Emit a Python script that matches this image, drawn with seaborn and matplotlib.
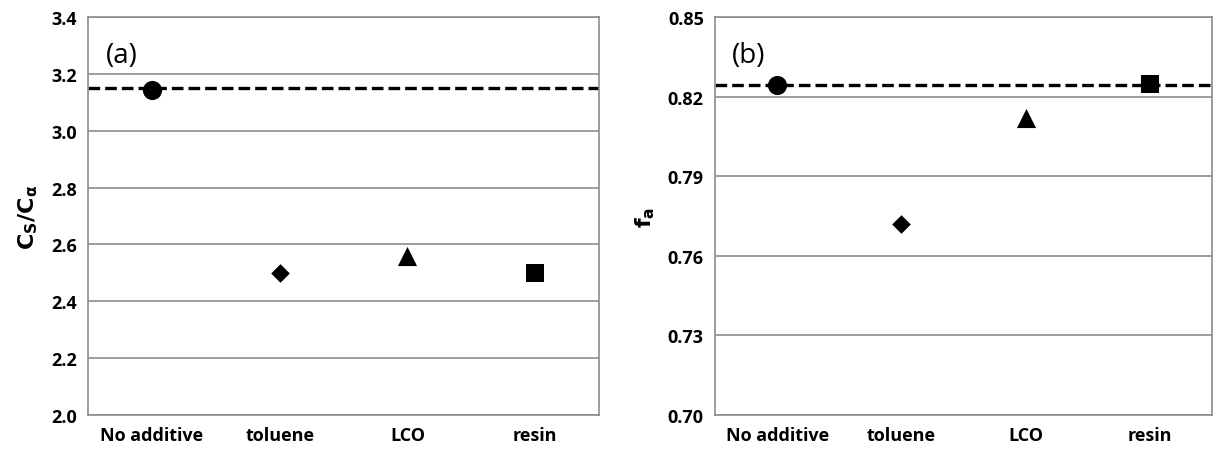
import pandas as pd
import seaborn as sns
import matplotlib.pyplot as plt

additivos = ['No additive', 'toluene', 'LCO', 'resin']
cs_calfa = [3.145, 2.50, 2.56, 2.50]
fa = [0.8245, 0.772, 0.812, 0.8248]
ref_cs = 3.152
ref_fa = 0.8243
marcadores = {'No additive': 'o', 'toluene': 'D', 'LCO': '^', 'resin': 's'}
tamanhos = {'No additive': 190, 'toluene': 90, 'LCO': 190, 'resin': 170}

sns.set_style('white')
plt.rcParams['font.family'] = ['Open Sans', 'DejaVu Sans']
plt.rcParams['text.color'] = 'black'
plt.rcParams['axes.labelcolor'] = 'black'
plt.rcParams['xtick.color'] = 'black'
plt.rcParams['ytick.color'] = 'black'

df = pd.DataFrame({'aditivo': additivos, 'cs': cs_calfa, 'fa': fa})
df['pos'] = range(len(df))
df['tam'] = df['aditivo'].map(tamanhos)

fig = plt.figure(figsize=(12.19, 4.56), dpi=100)
ax1 = fig.add_axes([0.0722, 0.0877, 0.4192, 0.8728])
ax2 = fig.add_axes([0.5865, 0.0877, 0.4077, 0.8728])


def desenha(ax, coluna, ref, yticks, rotulo, letra, fmt):
    ax.set_ylim(yticks[0], yticks[-1])
    ax.set_xlim(-0.5, 3.5)
    ax.set_yticks(yticks)
    ax.set_yticklabels([fmt.format(v) for v in yticks], fontsize=13, fontweight='bold')
    ax.grid(axis='y', color='#8c8c8c', linewidth=1.2)
    ax.set_axisbelow(True)
    ax.axhline(ref, color='black', linestyle=(0, (3.5, 1.5)), linewidth=2.4, zorder=2)
    for _, linha in df.iterrows():
        sns.scatterplot(x=[linha['pos']], y=[linha[coluna]], marker=marcadores[linha['aditivo']],
                        s=linha['tam'], color='black', edgecolor='black', linewidth=0, ax=ax, zorder=3)
    ax.set_xticks(range(len(additivos)))
    ax.set_xticklabels(additivos, fontsize=13, fontweight='bold')
    ax.tick_params(axis='both', length=0, pad=8)
    for lado in ax.spines.values():
        lado.set_color('#8c8c8c')
        lado.set_linewidth(1.2)
    ax.set_ylabel(rotulo, fontsize=16, fontweight='bold', labelpad=8)
    ax.set_xlabel('')
    ax.text(0.035, 0.94, letra, transform=ax.transAxes, fontsize=20, va='top')


desenha(ax1, 'cs', ref_cs, [2.0, 2.2, 2.4, 2.6, 2.8, 3.0, 3.2, 3.4],
        r'$\mathbf{C_S/C_{\alpha}}$', '(a)', '{:.1f}')
desenha(ax2, 'fa', ref_fa, [0.70, 0.73, 0.76, 0.79, 0.82, 0.85],
        r'$\mathbf{f_a}$', '(b)', '{:.2f}')

plt.savefig('out.png', dpi=100)
